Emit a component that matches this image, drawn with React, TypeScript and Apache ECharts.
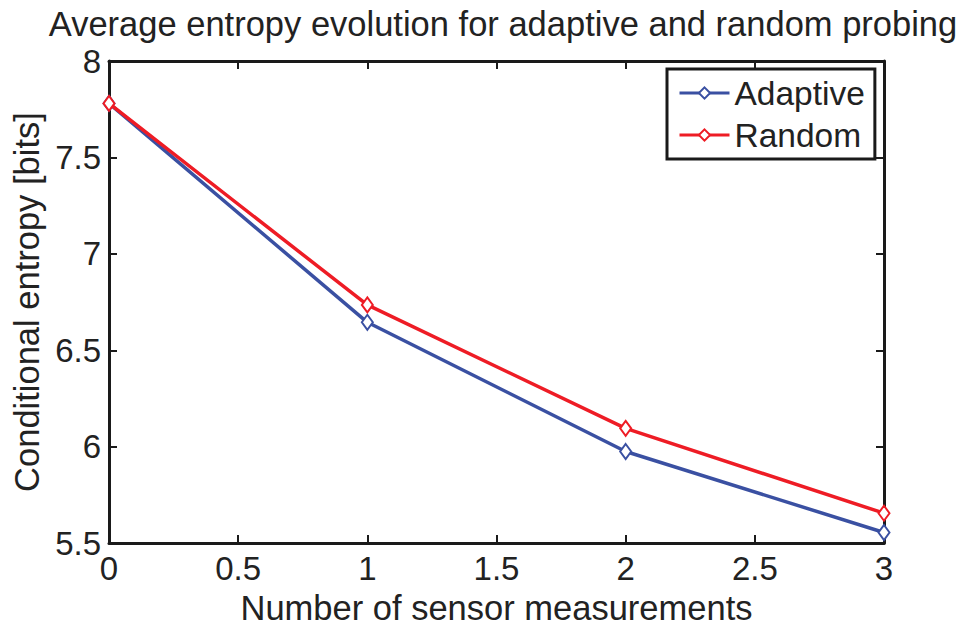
import React, { useEffect, useRef } from "react";
import * as echarts from "echarts";

const measurements = [0, 1, 2, 3];
const adaptive = [7.78, 6.645, 5.975, 5.555];
const random = [7.78, 6.735, 6.095, 5.655];
const seriesNames = ["Adaptive", "Random"];

const FONT = "'Liberation Sans', Arial, Helvetica, sans-serif";
const TXT = "#222222";
const AX = "#1a1a1a";

export default function App() {
  const ref = useRef<HTMLDivElement>(null);
  useEffect(() => {
    if (!ref.current) return;
    const chart = echarts.init(ref.current, undefined, { renderer: "svg" });
    const axisCommon = {
      type: "value" as const,
      axisLine: { show: true, onZero: false, lineStyle: { color: AX, width: 3 } },
      axisTick: { show: true, inside: true, length: 8, lineStyle: { color: AX, width: 2 } },
      splitLine: { show: false },
      interval: 0.5,
    };
    chart.setOption({
      animation: false,
      backgroundColor: "#ffffff",
      textStyle: { fontFamily: FONT },
      title: {
        text: "Average entropy evolution for adaptive and random probing",
        left: 498,
        textAlign: "center",
        top: 1,
        textStyle: { fontFamily: FONT, fontSize: 34.5, fontWeight: "normal", color: TXT },
      },
      grid: { left: 109, right: 80, top: 61, bottom: 80, containLabel: false },
      legend: {
        orient: "vertical",
        left: 667,
        top: 69,
        padding: [6, 10, 6, 11],
        itemWidth: 50,
        itemHeight: 14,
        itemGap: 6,
        borderColor: AX,
        borderWidth: 3,
        backgroundColor: "#ffffff",
        data: seriesNames,
        lineStyle: { width: 3 },
        textStyle: { fontFamily: FONT, fontSize: 33.5, color: TXT, lineHeight: 36, padding: [0, 0, 0, 0] },
      },
      xAxis: [
        {
          ...axisCommon,
          min: 0,
          max: 3,
          position: "bottom",
          name: "Number of sensor measurements",
          nameLocation: "middle",
          nameGap: 34,
          nameTextStyle: { fontFamily: FONT, fontSize: 34.5, color: TXT },
          axisLabel: { fontFamily: FONT, fontSize: 33, color: TXT, margin: 9 },
        },
        {
          ...axisCommon,
          min: 0,
          max: 3,
          position: "top",
          axisLabel: { show: false },
        },
      ],
      yAxis: [
        {
          ...axisCommon,
          min: 5.5,
          max: 8,
          position: "left",
          name: "Conditional entropy [bits]",
          nameLocation: "middle",
          nameGap: 64,
          nameTextStyle: { fontFamily: FONT, fontSize: 34.5, color: TXT },
          axisLabel: { fontFamily: FONT, fontSize: 33, color: TXT, margin: 8 },
        },
        {
          ...axisCommon,
          min: 5.5,
          max: 8,
          position: "right",
          axisLabel: { show: false },
        },
      ],
      series: [
        {
          name: seriesNames[0],
          type: "line",
          data: measurements.map((x, i) => [x, adaptive[i]]),
          symbol: "emptyDiamond",
          symbolSize: [11, 15],
          lineStyle: { color: "#3a50a2", width: 3.5 },
          itemStyle: { color: "#3a50a2", borderWidth: 3 },
          z: 3,
        },
        {
          name: seriesNames[1],
          type: "line",
          data: measurements.map((x, i) => [x, random[i]]),
          symbol: "emptyDiamond",
          symbolSize: [11, 15],
          lineStyle: { color: "#ee1c25", width: 3.5 },
          itemStyle: { color: "#ee1c25", borderWidth: 3 },
          z: 4,
        },
      ],
    });
    return () => chart.dispose();
  }, []);
  return (
    <div
      ref={ref}
      style={{ position: "fixed", left: 0, top: 0, width: 964, height: 630, background: "#fff" }}
    />
  );
}
